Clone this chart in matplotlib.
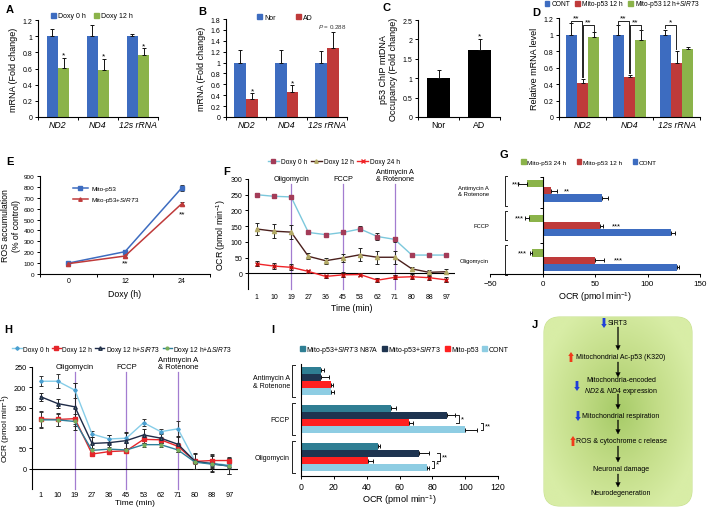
import matplotlib
matplotlib.use('Agg')
import matplotlib.pyplot as plt
import numpy as np
from matplotlib.patches import Patch, FancyBboxPatch, FancyArrow
from matplotlib.lines import Line2D
from matplotlib.ticker import FuncFormatter
from matplotlib.colors import LinearSegmentedColormap

plt.rcParams['font.family'] = ['Liberation Sans', 'DejaVu Sans']
plt.rcParams['mathtext.fontset'] = 'custom'
plt.rcParams['mathtext.rm'] = 'Liberation Sans'
plt.rcParams['mathtext.it'] = 'Liberation Sans:italic'
plt.rcParams['axes.linewidth'] = 0.8

# ---- data ----
genes = ['ND2', 'ND4', '12s rRNA']
a_doxy0 = [1.0, 1.0, 1.0]
a_doxy0_err = [0.09, 0.14, 0.03]
a_doxy12 = [0.61, 0.58, 0.77]
a_doxy12_err = [0.12, 0.14, 0.08]

b_nor = [1.0, 1.0, 1.0]
b_nor_err = [0.23, 0.23, 0.22]
b_ad = [0.33, 0.46, 1.26]
b_ad_err = [0.11, 0.12, 0.31]

c_groups = ['Nor', 'AD']
c_vals = [1.0, 1.72]
c_err = [0.21, 0.30]

d_cont = [1.0, 1.0, 1.0]
d_cont_err = [0.14, 0.11, 0.06]
d_p53 = [0.41, 0.48, 0.65]
d_p53_err = [0.05, 0.03, 0.15]
d_sirt3 = [0.97, 0.93, 0.82]
d_sirt3_err = [0.06, 0.12, 0.03]

e_hours = ['0', '12', '24']
e_p53 = [100, 205, 790]
e_p53_err = [10, 15, 30]
e_sirt3 = [95, 165, 645]
e_sirt3_err = [8, 10, 15]

times = ['1', '10', '19', '27', '36', '45', '53', '62', '71', '80', '88', '97']
f_0h = [250, 245, 243, 130, 123, 130, 141, 117, 108, 58, 58, 58]
f_0h_err = [5, 5, 6, 4, 5, 4, 8, 10, 8, 4, 4, 4]
f_12h = [141, 134, 131, 54, 40, 49, 59, 51, 51, 14, 3, 5]
f_12h_err = [20, 22, 22, 10, 10, 12, 20, 20, 20, 6, 8, 8]
f_24h = [30, 23, 19, 6, -10, -5, -4, -22, -13, -11, -14, -21]
f_24h_err = [8, 10, 10, 6, 6, 8, 6, 6, 6, 8, 6, 8]

drugs = ['Antimycin A\n& Rotenone', 'FCCP', 'Oligomycin']
g_24h = [-15, -13, -10]
g_24h_err = [8, 4, 2]
g_12h = [8, 55, 50]
g_12h_err = [6, 3, 9]
g_cont = [57, 122, 128]
g_cont_err = [5, 4, 2]

h_0h = [215, 215, 193, 85, 73, 75, 113, 91, 98, 18, 14, 8]
h_0h_err = [12, 17, 18, 8, 10, 12, 8, 6, 20, 18, 20, 8]
h_12h = [122, 121, 123, 36, 42, 44, 72, 71, 55, 18, 20, 20]
h_12h_err = [20, 15, 12, 5, 5, 6, 10, 8, 8, 5, 15, 8]
h_sirt3 = [177, 160, 152, 62, 64, 69, 83, 75, 60, 18, 12, 6]
h_sirt3_err = [10, 12, 58, 15, 20, 20, 15, 12, 20, 20, 20, 20]
h_dsirt3 = [120, 120, 116, 45, 48, 46, 59, 59, 46, 16, 11, 7]
h_dsirt3_err = [20, 15, 10, 5, 5, 5, 5, 5, 5, 5, 10, 20]

i_n87a = [12, 55, 47]
i_n87a_err = [2, 3, 1]
i_sirt3 = [12, 89, 72]
i_sirt3_err = [5, 5, 6]
i_p53 = [18, 66, 41]
i_p53_err = [1.5, 2, 3]
i_cont = [18, 100, 77]
i_cont_err = [2, 7, 1]

BLUE = '#3D6CC0'
GREEN = '#8BB34A'
RED = '#BF3A3A'

fig = plt.figure(figsize=(7.09, 5.10), dpi=100)
W, H = 709, 510


def px_axes(l, t, r, b):
    return fig.add_axes([l / W, 1 - b / H, (r - l) / W, (b - t) / H])


def legend_at(ax, handles, labels, cx, cy, ncol, **kw):
    opts = dict(loc='center', bbox_to_anchor=(cx / W, 1 - cy / H),
                bbox_transform=fig.transFigure, ncol=ncol, frameon=False,
                fontsize=5, handlelength=0.7, handleheight=0.7,
                handletextpad=0.3, columnspacing=1.2, borderpad=0,
                borderaxespad=0, labelspacing=0.6)
    opts.update(kw)
    ax.legend(handles, labels, **opts)


def vbars(ax, x, vals, errs, color, width):
    ax.bar(x, vals, width, color=color, zorder=2)
    ax.errorbar(x, vals, yerr=[np.zeros(len(vals)), errs], fmt='none',
                ecolor='#111111', elinewidth=0.7, capsize=1.5, capthick=0.7, zorder=3)


def hbars(ax, y, vals, errs, color, height):
    vals = np.asarray(vals, float)
    errs = np.asarray(errs, float)
    ax.barh(y, vals, height, color=color, zorder=2)
    lo = np.where(vals < 0, errs, 0)
    hi = np.where(vals >= 0, errs, 0)
    ax.errorbar(vals, y, xerr=[lo, hi], fmt='none', ecolor='#111111',
                elinewidth=0.7, capsize=1.2, capthick=0.7, zorder=3)


def cat_style(ax, labels, italic=True, fs=6.3, yfs=5):
    ax.spines[['top', 'right']].set_visible(False)
    n = len(labels)
    ax.set_xlim(-0.5, n - 0.5)
    ax.set_xticks(range(n))
    ax.set_xticklabels(labels, fontsize=fs, style='italic' if italic else 'normal')
    ax.set_xticks(np.arange(-0.5, n), minor=True)
    ax.tick_params(axis='x', which='major', length=0, pad=2.5)
    ax.tick_params(axis='x', which='minor', length=2.5, width=0.7)
    ax.tick_params(axis='y', length=2.5, width=0.7, pad=1.5, labelsize=yfs)
    ax.yaxis.set_major_formatter(FuncFormatter(lambda v, p: f'{v:g}'))


def star(ax, x, y, s, **kw):
    ax.text(x, y, s, ha='center', va='bottom', fontsize=6, **kw)


# ---- A ----
axA = px_axes(38, 21, 158, 118)
x = np.arange(3)
w = 0.28
vbars(axA, x - w / 2, a_doxy0, a_doxy0_err, BLUE, w)
vbars(axA, x + w / 2, a_doxy12, a_doxy12_err, GREEN, w)
for xi, v, e in zip(x + w / 2, a_doxy12, a_doxy12_err):
    star(axA, xi, v + e - 0.01, '*')
axA.set_ylim(0, 1.2)
axA.set_yticks(np.arange(0, 1.21, 0.2))
cat_style(axA, genes)
axA.set_ylabel('mRNA (Fold change)', fontsize=6.5, labelpad=3)
legend_at(axA, [Patch(color=BLUE), Patch(color=GREEN)], ['Doxy 0 h', 'Doxy 12 h'], 92, 17, 2)

# ---- B ----
axB = px_axes(226, 20, 347, 118)
w = 0.29
vbars(axB, x - w / 2, b_nor, b_nor_err, BLUE, w)
vbars(axB, x + w / 2, b_ad, b_ad_err, RED, w)
for xi, v, e in zip((x + w / 2)[:2], b_ad[:2], b_ad_err[:2]):
    star(axB, xi, v + e - 0.02, '*')
axB.text(x[2] + w / 2, b_ad[2] + b_ad_err[2] + 0.03, '$P$ = 0.288', ha='center',
         va='bottom', fontsize=4.5, color='#333333')
axB.set_ylim(0, 1.8)
axB.set_yticks(np.arange(0, 1.81, 0.2))
cat_style(axB, genes)
axB.set_ylabel('mRNA (Fold change)', fontsize=6.5, labelpad=3)
legend_at(axB, [Patch(color=BLUE), Patch(color=RED)], ['Nor', 'AD'], 285, 18, 2,
          columnspacing=3)

# ---- C ----
axC = px_axes(418, 21, 500, 118)
xc = np.arange(2)
vbars(axC, xc, c_vals, c_err, 'black', 0.54)
star(axC, xc[1], c_vals[1] + c_err[1] - 0.03, '*')
axC.set_ylim(0, 2.5)
axC.set_yticks(np.arange(0, 2.51, 0.5))
cat_style(axC, c_groups, italic=False)
axC.set_ylabel('p53 ChIP mtDNA\nOccupancy (Fold change)', fontsize=6.5, labelpad=3)

# ---- D ----
axD = px_axes(559, 19, 700, 118)
w = 0.24
vbars(axD, x - w, d_cont, d_cont_err, BLUE, w)
vbars(axD, x, d_p53, d_p53_err, RED, w)
vbars(axD, x + w, d_sirt3, d_sirt3_err, GREEN, w)


def bracket_v(ax, x1, x2, y, b1, b2, s):
    ax.plot([x1, x1, x2, x2], [b1, y, y, b2], color='#222222', lw=0.7, zorder=4)
    ax.text((x1 + x2) / 2, y - 0.005, s, ha='center', va='bottom', fontsize=6)


for i in range(2):
    top_c = d_cont[i] + d_cont_err[i]
    top_p = d_p53[i] + d_p53_err[i]
    top_s = d_sirt3[i] + d_sirt3_err[i]
    bracket_v(axD, i - w, i - 0.02, 1.16, top_c + 0.01, top_p + 0.02, '**')
    bracket_v(axD, i + 0.02, i + w, 1.11, top_p + 0.02, top_s + 0.01, '**')
bracket_v(axD, 2 - w, 2 - 0.02, 1.12, 1.08, d_p53[2] + d_p53_err[2] + 0.02, '*')
axD.set_ylim(0, 1.2)
axD.set_yticks(np.arange(0, 1.21, 0.2))
cat_style(axD, genes)
axD.set_ylabel('Relative mRNA level', fontsize=6.5, labelpad=3)
legend_at(axD, [Patch(color=BLUE), Patch(color=RED), Patch(color=GREEN)],
          ['CONT', 'Mito-p53 12 h', 'Mito-p53 12 h+$\\it{SIRT3}$'], 622, 5, 3,
          columnspacing=0.8, fontsize=4.8)

# ---- E ----
axE = px_axes(40, 177, 210, 275)
xe = np.arange(3)
ekw = dict(lw=1.1, ms=3, capsize=1.5, elinewidth=0.7, capthick=0.7)
axE.errorbar(xe, e_p53, yerr=e_p53_err, color=BLUE, marker='s', ecolor='#333333', **ekw)
axE.errorbar(xe, e_sirt3, yerr=e_sirt3_err, color=RED, marker='^', ecolor='#333333', **ekw)
axE.text(1, 100, '**', ha='center', va='center', fontsize=6)
axE.text(2, 550, '**', ha='center', va='center', fontsize=6)
axE.set_ylim(0, 900)
axE.set_yticks(np.arange(0, 901, 100))
cat_style(axE, e_hours, italic=False, fs=5, yfs=4.6)
axE.set_xlabel('Doxy (h)', fontsize=6.3, labelpad=3)
axE.set_ylabel('ROS accumulation\n(% of control)', fontsize=6.3, labelpad=2)
axE.legend([Line2D([], [], color=BLUE, marker='s', ms=2.5, lw=1.1),
            Line2D([], [], color=RED, marker='^', ms=2.5, lw=1.1)],
           ['Mito-p53', 'Mito-p53+$\\it{SIRT3}$'], loc='center',
           bbox_to_anchor=(106 / W, 1 - 196 / H), bbox_transform=fig.transFigure,
           frameon=False, fontsize=4.6, handlelength=2.4, handletextpad=0.5,
           labelspacing=0.7, borderpad=0)


# ---- helpers for time courses ----
def time_style(ax, ymin, ymax, step, yfs):
    ax.set_xlim(-0.5, 11.5)
    ax.set_ylim(ymin, ymax)
    ax.set_yticks(np.arange(0, ymax + 1, step))
    ax.spines[['top', 'right', 'bottom']].set_visible(False)
    ax.axhline(0, color='black', lw=0.8)
    ax.set_xticks(range(len(times)))
    ax.set_xticklabels(times, fontsize=yfs)
    ax.tick_params(axis='x', length=0, pad=3)
    ax.tick_params(axis='y', length=2.5, width=0.7, pad=1.5, labelsize=yfs)


def inj_lines(ax, ybot, ytop, ytext, fs):
    for idx, lab in zip([2, 5, 8], ['Oligomycin', 'FCCP', 'Antimycin A\n& Rotenone']):
        ax.plot([idx, idx], [ybot, ytop], color='#A37CD0', lw=0.9, clip_on=False, zorder=1)
        ax.text(idx, ytext, lab, ha='center', va='bottom', fontsize=fs,
                linespacing=1.0, clip_on=False)


# ---- F ----
axF = px_axes(248, 180, 455, 290)
xt = np.arange(len(times))
tkw = dict(lw=1.0, ms=3, capsize=1.3, elinewidth=0.7, capthick=0.7, ecolor='#222222', zorder=3)
axF.errorbar(xt, f_0h, yerr=f_0h_err, color='#7CC8DC', marker='s', mfc='#A33C58', mec='#A33C58', **tkw)
axF.errorbar(xt, f_12h, yerr=f_12h_err, color='#4A1F1C', marker='^', mfc='#B3AA66', mec='#B3AA66', **tkw)
axF.errorbar(xt, f_24h, yerr=f_24h_err, color='#F02428', marker='x', mfc='#F02428', mec='#C01010', **tkw)
time_style(axF, -50, 300, 50, 5)
inj_lines(axF, -50, 284, 291, 5.2)
axF.set_xlabel('Time (min)', fontsize=6.3, labelpad=2)
axF.set_ylabel('OCR (pmol min$^{-1}$)', fontsize=6.3, labelpad=2)
legend_at(axF, [Line2D([], [], color='#7CC8DC', marker='s', mfc='#A33C58', mec='#A33C58', ms=2.5, lw=1),
                Line2D([], [], color='#4A1F1C', marker='^', mfc='#B3AA66', mec='#B3AA66', ms=2.5, lw=1),
                Line2D([], [], color='#F02428', marker='x', ms=2.5, lw=1)],
          ['Doxy 0 h', 'Doxy 12 h', 'Doxy 24 h'], 334, 163, 3,
          handlelength=1.6, columnspacing=0.6, fontsize=4.8)

# ---- G ----
axG = px_axes(490, 178, 700, 275)
yg = np.arange(3)
hg = 0.21
hbars(axG, yg - hg, g_24h, g_24h_err, GREEN, hg)
hbars(axG, yg, g_12h, g_12h_err, RED, hg)
hbars(axG, yg + hg, g_cont, g_cont_err, BLUE, hg)
axG.set_xlim(-50, 150)
axG.set_ylim(2.4, -0.4)
axG.spines[['top', 'right']].set_visible(False)
axG.spines['left'].set_position(('data', 0))
axG.set_yticks([-0.4, 0.5, 1.5, 2.4])
axG.set_yticklabels([])
axG.set_xticks(np.arange(-50, 151, 50))
axG.tick_params(axis='y', length=2.5, width=0.7)
axG.tick_params(axis='x', length=2.5, width=0.7, pad=1.5, labelsize=5.8)
for i, lab in enumerate(drugs):
    axG.text(-0.005, i, lab, transform=axG.get_yaxis_transform(), ha='right',
             va='center', fontsize=4.2, multialignment='center')
    axG.plot([-34, -36, -36, -34], [i - 0.43, i - 0.43, i + 0.43, i + 0.43],
             color='#222222', lw=0.7, clip_on=False)
for xs, yi, s in [(-25, 0 - hg, '***'), (23, 0, '**'), (-22, 1 - hg, '***'),
                  (70, 1, '***'), (-19, 2 - hg, '***'), (72, 2, '***')]:
    axG.text(xs, yi, s, ha='center', va='center', fontsize=5.5)
axG.set_xlabel('OCR (pmol min$^{-1}$)', fontsize=6.5, labelpad=2)
legend_at(axG, [Patch(color=GREEN), Patch(color=RED), Patch(color=BLUE)],
          ['Mito-p53 24 h', 'Mito-p53 12 h', 'CONT'], 589, 163, 3,
          columnspacing=1.6, fontsize=4.6)

# ---- H ----
axH = px_axes(32, 368, 238, 490)
axH.errorbar(xt, h_0h, yerr=h_0h_err, color='#86CDE8', marker='D', ms=1.8, mfc='#4A9FD0',
             mec='#4A9FD0', lw=1.0, capsize=1.3, elinewidth=0.7, capthick=0.7, ecolor='#333333', zorder=3)
axH.errorbar(xt, h_12h, yerr=h_12h_err, color='#E5262B', marker='s', ms=3, lw=1.0, capsize=1.3,
             elinewidth=0.7, capthick=0.7, ecolor='#333333', zorder=3)
axH.errorbar(xt, h_sirt3, yerr=h_sirt3_err, color='#1E2B48', marker='^', ms=2.5, mfc='#6E9A6A',
             mec='#1E2B48', lw=1.0, capsize=1.3, elinewidth=0.7, capthick=0.7, ecolor='#222222', zorder=3)
axH.errorbar(xt, h_dsirt3, yerr=h_dsirt3_err, color='#2E7F9A', marker='o', ms=2, mfc='#7AAE5A',
             mec='#7AAE5A', lw=1.0, capsize=1.3, elinewidth=0.7, capthick=0.7, ecolor='#333333', zorder=3)
time_style(axH, -50, 250, 50, 5.3)
axH.tick_params(axis='x', pad=1.5)
inj_lines(axH, -50, 238, 242, 5.5)
axH.set_xlabel('Time (min)', fontsize=6, labelpad=0.5)
axH.set_ylabel('OCR (pmol min$^{-1}$)', fontsize=6, labelpad=0.5)
legend_at(axH, [Line2D([], [], color='#86CDE8', marker='D', ms=1.8, mfc='#4A9FD0', mec='#4A9FD0', lw=1),
                Line2D([], [], color='#E5262B', marker='s', ms=2.5, lw=1),
                Line2D([], [], color='#1E2B48', marker='^', ms=2.5, mfc='#6E9A6A', lw=1),
                Line2D([], [], color='#2E7F9A', marker='o', ms=2, mfc='#7AAE5A', mec='#7AAE5A', lw=1)],
          ['Doxy 0 h', 'Doxy 12 h', 'Doxy 12 h+$\\it{SIRT3}$', 'Doxy 12 h+Δ$\\it{SIRT3}$'],
          122, 350, 4, handlelength=1.4, columnspacing=0.4, handletextpad=0.2, fontsize=4.8)

# ---- I ----
axI = px_axes(301, 365, 498, 477)
yi_ = np.arange(3)
hi_ = 0.185
offs = [-0.28, -0.095, 0.095, 0.28]
TEAL, NAVY, BRED, LBLUE = '#2F7E93', '#1E3450', '#FF2020', '#8ECDE3'
for off, vals, errs, col in zip(offs, [i_n87a, i_sirt3, i_p53, i_cont],
                                [i_n87a_err, i_sirt3_err, i_p53_err, i_cont_err],
                                [TEAL, NAVY, BRED, LBLUE]):
    hbars(axI, yi_ + off, vals, errs, col, hi_)
axI.set_xlim(0, 120)
axI.set_ylim(2.5, -0.45)
axI.spines[['top', 'right']].set_visible(False)
axI.set_yticks([])
axI.set_xticks(np.arange(0, 121, 20))
axI.tick_params(axis='x', length=2.5, width=0.7, pad=1.5, labelsize=6.3)
for i, lab in enumerate(drugs):
    axI.text(-0.056, i, lab, transform=axI.get_yaxis_transform(), ha='right',
             va='center', fontsize=5, multialignment='center')
    axI.plot([-3.5, -5.5, -5.5, -3.5], [i - 0.43, i - 0.43, i + 0.43, i + 0.43],
             color='#222222', lw=0.7, clip_on=False)


def bracket_h(ax, xb, y1, y2, s):
    ax.plot([xb - 1.5, xb, xb, xb - 1.5], [y1, y1, y2, y2], color='#222222', lw=0.7, clip_on=False)
    ax.text(xb + 1.2, (y1 + y2) / 2, s, ha='left', va='center', fontsize=5.5, clip_on=False)


bracket_h(axI, 96, 1 + offs[1], 1 + offs[2], '*')
bracket_h(axI, 111, 1 + offs[2], 1 + offs[3], '**')
bracket_h(axI, 84.5, 2 + offs[1], 2 + offs[2], '**')
bracket_h(axI, 81, 2 + offs[2], 2 + offs[3], '*')
axI.set_xlabel('OCR (pmol min$^{-1}$)', fontsize=6.6, labelpad=1.5)
legend_at(axI, [Patch(color=TEAL), Patch(color=NAVY), Patch(color=BRED), Patch(color=LBLUE)],
          ['Mito-p53+$\\it{SIRT3}$ N87A', 'Mito-p53+$\\it{SIRT3}$', 'Mito-p53', 'CONT'],
          404, 350, 4, columnspacing=0.5, handletextpad=0.2, fontsize=5)

# ---- J ----
axJ = px_axes(543, 317, 693, 508)
axJ.set_xlim(543, 693)
axJ.set_ylim(508, 317)
axJ.axis('off')
box = FancyBboxPatch((544, 318), 148, 189, boxstyle='round,pad=0,rounding_size=16',
                     fc='#D6ECA2', ec='#C9E192', lw=0.8)
axJ.add_patch(box)
gy, gx = np.mgrid[0:1:200j, 0:1:160j]
dist = np.sqrt(((gx - 0.5) / 0.55) ** 2 + ((gy - 0.5) / 0.6) ** 2)
cmap = LinearSegmentedColormap.from_list('jg', ['#A7CB68', '#C3DD88', '#D8EDA6'])
img = axJ.imshow(np.clip(dist, 0, 1), cmap=cmap, extent=(544, 692, 507, 318),
                 aspect='auto', zorder=1)
img.set_clip_path(box)

steps = [
    (324, 'SIRT3', 'down', 604),
    (358, 'Mitochondrial Ac-p53 (K320)', 'up', 571),
    (387, 'Mitochondria-encoded\n$\\it{ND2}$ & $\\it{ND4}$ expression', 'down', 577),
    (417, 'Mitochondrial respiration', 'down', 578),
    (442, 'ROS & cytochrome c release', 'up', 573),
    (470, 'Neuronal damage', None, None),
    (494, 'Neurodegeneration', None, None),
]
for yy, txt, arr, ax_x in steps:
    if txt == 'SIRT3':
        axJ.text(608, yy, txt, ha='left', va='center', fontsize=5, zorder=3)
    else:
        axJ.text(621, yy, txt, ha='center', va='center', fontsize=5, zorder=3,
                 linespacing=1.3)
    if arr == 'down':
        axJ.add_patch(FancyArrow(ax_x, yy - 5, 0, 10, width=2.8, head_width=5.5,
                                 head_length=4, length_includes_head=True,
                                 fc='#1F3FD8', ec='none', zorder=3))
    elif arr == 'up':
        axJ.add_patch(FancyArrow(ax_x, yy + 5, 0, -10, width=2.8, head_width=5.5,
                                 head_length=4, length_includes_head=True,
                                 fc='#F03A1A', ec='none', zorder=3))
for y0, y1 in [(328, 351), (363, 378), (395, 410), (421, 435), (447, 463), (475, 488)]:
    axJ.add_patch(FancyArrow(618, y0, 0, y1 - y0, width=0.7, head_width=4.5,
                             head_length=4.5, length_includes_head=True,
                             fc='black', ec='black', lw=0.3, zorder=3))

# ---- panel letters ----
for lab, px, py in [('A', 10, 10), ('B', 202, 12), ('C', 386, 8), ('D', 536, 13),
                    ('E', 10, 162), ('F', 227, 172), ('G', 504, 155),
                    ('H', 8, 330), ('I', 273, 330), ('J', 535, 325)]:
    fig.text(px / W, 1 - py / H, lab, ha='center', va='center', fontsize=8, fontweight='bold')

fig.savefig('out.png', dpi=100)
